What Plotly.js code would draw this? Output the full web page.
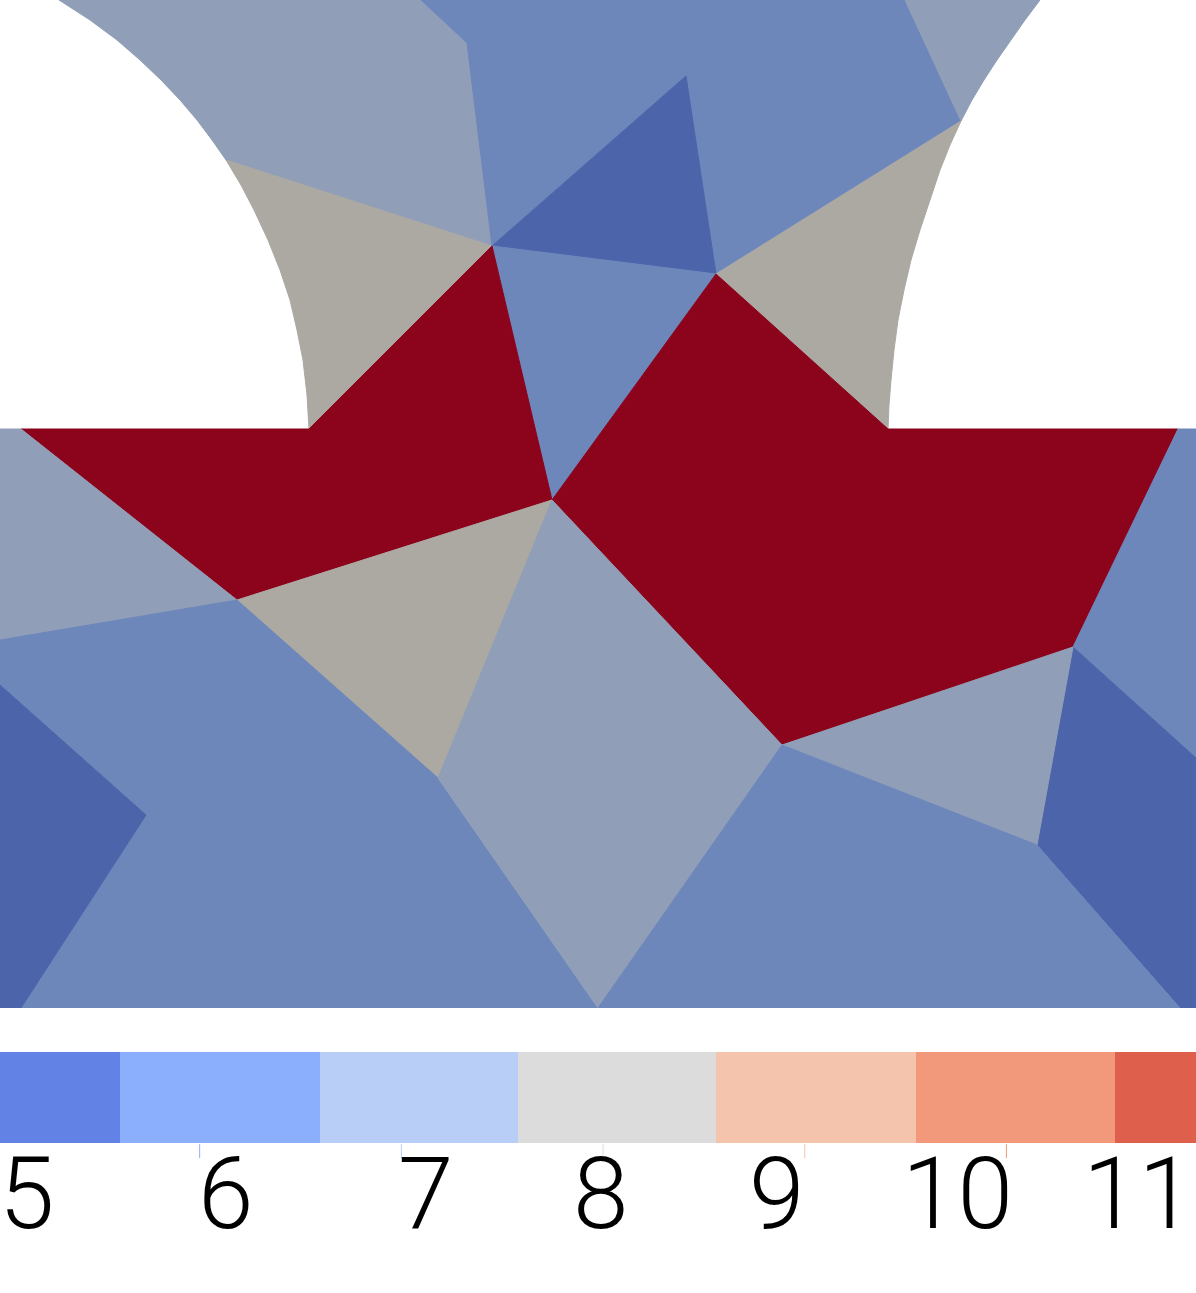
<!DOCTYPE html>
<html>
<head>
<meta charset="utf-8">
<script src="https://cdn.plot.ly/plotly-3.0.1.min.js"></script>
<style>
  html, body { margin: 0; padding: 0; background: #ffffff; }
  #graph { width: 1196px; height: 1293px; }
</style>
</head>
<body>
<div id="graph"></div>
<script>
// colour bands of the bar (value edges and colours)
var bandEdges = [5.01, 5.605, 6.595, 7.58, 8.56, 9.55, 10.54, 10.94];
var bandColors = ['#6282E6', '#8CAFFD', '#B8CEF7', '#DCDCDC', '#F4C4AD', '#F3997B', '#DE604C'];
var aboveColor = '#B40426';
var belowColor = '#3B4CC0';

// tick labels of the bar
var tickVals = [6, 7, 8, 9, 10];
var labelText = ['5', '6', '7', '8', '9', '10', '11'];
var labelAt = [5.14, 6.13, 7.12, 7.985, 8.86, 9.755, 10.655];

// arcs of the two holes (top to bottom)
var leftArcX = [59, 90, 117, 140, 161, 180, 197, 212, 226, 241, 254, 268, 280, 290, 297, 303, 307, 309];
var leftArcY = [0, 20, 40, 60, 80, 100, 120, 140, 160, 185, 210, 240, 270, 300, 330, 360, 395, 429];
var rightArcX = [1040, 1025, 1011, 997, 984, 972, 961, 950, 940, 930, 920, 911, 904, 898, 894, 891, 889, 888];
var rightArcY = [0, 20, 40, 60, 80, 100, 121, 145, 170, 200, 230, 260, 290, 320, 350, 380, 405, 429];

// cell values
var cellValues = [7.1, 8.1, 6.1, 5.3, 7.1, 8.1, 6.1, 11.5, 11.5, 7.1, 8.1, 6.1, 5.3, 7.1, 6.1, 5.3, 7.1, 6.1];

// cell outlines
var cellX = [
  [421].concat(leftArcX.slice(0, 9), [492, 467]),
  leftArcX.slice(8).concat([492]),
  [421, 467, 492, 686, 716, 961, 905],
  [492, 686, 716],
  [905].concat(rightArcX.slice(0, 7)),
  [716].concat(rightArcX.slice(6)),
  [492, 716, 552],
  [21, 309, 492, 552, 237],
  [552, 716, 888, 1178, 1073, 782],
  [0, 21, 237, 0],
  [237, 552, 438],
  [0, 237, 438, 598, 21, 146, 0],
  [0, 146, 21, 0],
  [552, 782, 598, 438],
  [1178, 1196, 1196, 1073],
  [1073, 1196, 1196, 1180, 1037],
  [782, 1073, 1037],
  [598, 782, 1037, 1180]
];
var cellY = [
  [0].concat(leftArcY.slice(0, 9), [246, 43]),
  leftArcY.slice(8).concat([246]),
  [0, 43, 246, 76, 274, 121, 0],
  [246, 76, 274],
  [0].concat(rightArcY.slice(0, 7)),
  [274].concat(rightArcY.slice(6)),
  [246, 274, 500],
  [429, 429, 246, 500, 600],
  [500, 274, 429, 429, 647, 745],
  [429, 429, 600, 640],
  [600, 500, 778],
  [640, 600, 778, 1008, 1008, 815, 685],
  [685, 815, 1008, 1008],
  [500, 745, 1008, 778],
  [429, 429, 758, 647],
  [647, 758, 1008, 1008, 845],
  [745, 647, 845],
  [1008, 745, 845, 1008]
];

// lighting of the surface darkens the colours a little
var shade = [0.78, 0.77, 0.74];

function colorFor(v) {
  if (v < bandEdges[0]) return belowColor;
  for (var i = 0; i < bandColors.length; i++) {
    if (v < bandEdges[i + 1]) return bandColors[i];
  }
  return aboveColor;
}

function shaded(hex) {
  var r = parseInt(hex.substr(1, 2), 16);
  var g = parseInt(hex.substr(3, 2), 16);
  var b = parseInt(hex.substr(5, 2), 16);
  return 'rgb(' + Math.round(r * shade[0]) + ',' + Math.round(g * shade[1]) + ',' + Math.round(b * shade[2]) + ')';
}

var data = [];
for (var c = 0; c < cellValues.length; c++) {
  var col = shaded(colorFor(cellValues[c]));
  data.push({
    x: cellX[c].concat([cellX[c][0]]),
    y: cellY[c].concat([cellY[c][0]]),
    type: 'scatter',
    mode: 'lines',
    fill: 'toself',
    fillcolor: col,
    line: { color: col, width: 1 },
    hoverinfo: 'skip',
    showlegend: false,
    xaxis: 'x',
    yaxis: 'y'
  });
}

// the colour bar itself
var scale = [];
for (var k = 0; k < bandColors.length; k++) {
  scale.push([k / bandColors.length, bandColors[k]]);
  scale.push([(k + 1) / bandColors.length, bandColors[k]]);
}
var bandIndex = [];
for (var k = 0; k < bandColors.length; k++) bandIndex.push(k);

data.push({
  type: 'heatmap',
  x: bandEdges,
  y: [0, 1],
  z: [bandIndex],
  zmin: -0.5,
  zmax: bandColors.length - 0.5,
  colorscale: scale,
  showscale: false,
  hoverinfo: 'skip',
  xaxis: 'x2',
  yaxis: 'y2'
});

// small tick marks under the bar, coloured like their band
var tickColors = [];
var tickY = [];
for (var t = 0; t < tickVals.length; t++) {
  tickColors.push(colorFor(tickVals[t] - 0.001));
  tickY.push(-0.09);
}
data.push({
  type: 'scatter',
  mode: 'markers',
  x: tickVals,
  y: tickY,
  marker: { symbol: 'line-ns', size: 10, line: { width: 1, color: tickColors } },
  hoverinfo: 'skip',
  showlegend: false,
  xaxis: 'x2',
  yaxis: 'y2'
});

var annotations = [];
for (var a = 0; a < labelText.length; a++) {
  annotations.push({
    text: labelText[a],
    x: labelAt[a],
    xref: 'x2',
    y: 0.0766,
    yref: 'paper',
    xanchor: 'center',
    yanchor: 'middle',
    showarrow: false,
    font: { family: 'Roboto, "Open Sans", sans-serif', size: 100, color: '#000000', weight: 300 }
  });
}

var H = 1293;
var layout = {
  width: 1196,
  height: 1293,
  margin: { l: 0, r: 0, t: 0, b: 0 },
  paper_bgcolor: '#ffffff',
  plot_bgcolor: 'rgba(0,0,0,0)',
  showlegend: false,
  xaxis: { domain: [0, 1], range: [0, 1196], visible: false, fixedrange: true },
  yaxis: { domain: [1 - 1008 / H, 1], range: [1008, 0], visible: false, fixedrange: true },
  xaxis2: { domain: [0, 1], range: [bandEdges[0], bandEdges[bandEdges.length - 1]], anchor: 'y2', visible: false },
  yaxis2: { domain: [(H - 1160) / H, (H - 1052) / H], range: [-17 / 91, 1], anchor: 'x2', visible: false },
  annotations: annotations
};

Plotly.newPlot('graph', data, layout, { displayModeBar: false, staticPlot: true });
</script>
</body>
</html>
